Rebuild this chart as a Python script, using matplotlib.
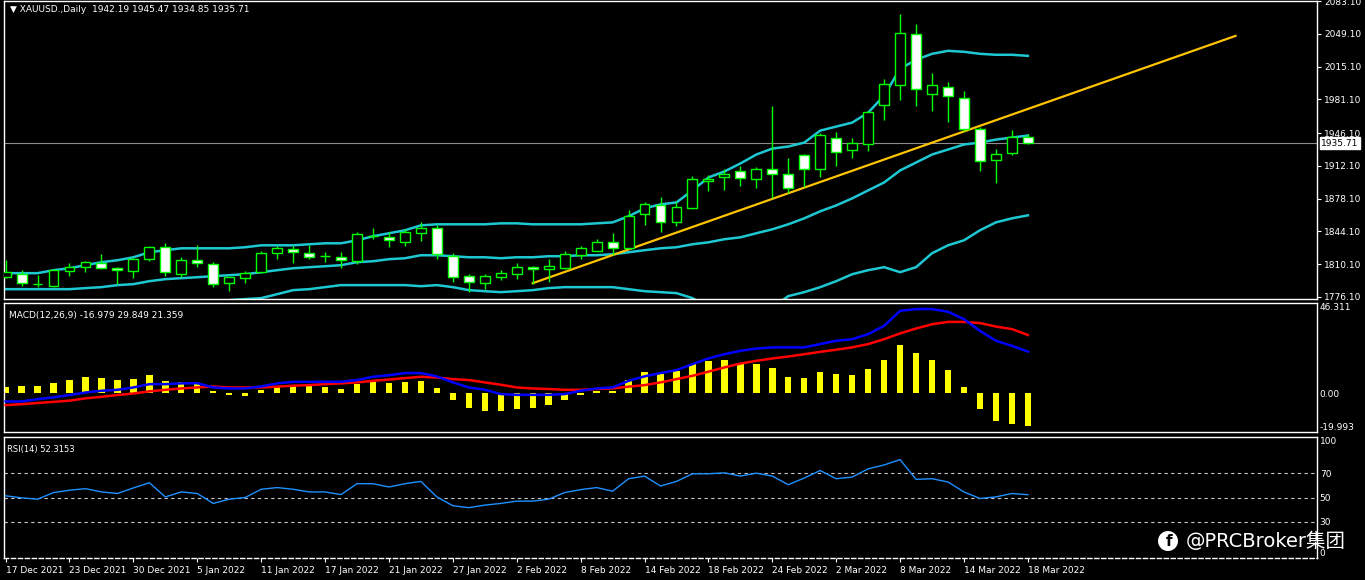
import matplotlib
matplotlib.use("Agg")
import matplotlib.pyplot as plt
import matplotlib.transforms as mtrans
from matplotlib.patches import Ellipse
import numpy as np

# ---------------- data ----------------
dates = ["17 Dec 2021", "23 Dec 2021", "30 Dec 2021", "5 Jan 2022", "11 Jan 2022", "17 Jan 2022",
         "21 Jan 2022", "27 Jan 2022", "2 Feb 2022", "8 Feb 2022", "14 Feb 2022", "18 Feb 2022",
         "24 Feb 2022", "2 Mar 2022", "8 Mar 2022", "14 Mar 2022", "18 Mar 2022"]

opens = [1796.6, 1799.7, 1789.4, 1787.3, 1802.9, 1807.0, 1811.1, 1806.0, 1802.9, 1815.3,
         1827.7, 1799.7, 1814.2, 1810.1, 1790.4, 1795.6, 1801.8, 1821.5, 1825.6, 1821.5,
         1818.4, 1817.3, 1813.2, 1839.0, 1838.0, 1832.8, 1842.2, 1847.3, 1818.4, 1797.7,
         1790.4, 1796.6, 1799.7, 1807.0, 1804.9, 1806.0, 1819.4, 1823.5, 1832.8, 1826.6,
         1861.8, 1871.1, 1853.5, 1868.0, 1896.0, 1900.1, 1906.3, 1898.0, 1909.4, 1903.2,
         1923.9, 1909.4, 1941.5, 1929.1, 1935.3, 1975.6, 1996.3, 2049.1, 1987.0, 1994.3,
         1982.9, 1950.8, 1918.7, 1926.0, 1942.19]
highs = [1814.2, 1803.9, 1798.7, 1804.9, 1811.1, 1813.2, 1820.4, 1807.0, 1816.3, 1828.7,
         1831.8, 1817.3, 1829.7, 1812.2, 1796.6, 1802.9, 1823.5, 1828.7, 1828.7, 1829.7,
         1822.5, 1822.5, 1843.2, 1847.3, 1843.2, 1846.3, 1853.5, 1850.4, 1821.5, 1799.7,
         1799.7, 1803.9, 1811.1, 1808.0, 1815.3, 1823.5, 1828.7, 1836.0, 1842.2, 1866.0,
         1874.2, 1879.4, 1874.2, 1901.2, 1902.2, 1909.4, 1912.5, 1910.5, 1974.6, 1920.8,
         1924.9, 1946.7, 1947.7, 1941.5, 1969.4, 2002.5, 2069.8, 2059.4, 2008.8, 1999.4,
         1990.1, 1952.9, 1930.1, 1949.8, 1945.47]
lows = [1795.6, 1787.3, 1786.3, 1786.3, 1797.7, 1801.8, 1804.9, 1789.4, 1795.6, 1813.2,
        1797.7, 1796.6, 1807.0, 1786.3, 1782.1, 1790.4, 1800.8, 1815.3, 1811.1, 1815.3,
        1812.2, 1806.0, 1810.1, 1836.0, 1827.7, 1828.7, 1833.9, 1815.3, 1791.5, 1781.1,
        1784.2, 1793.5, 1794.6, 1789.4, 1791.5, 1804.9, 1815.3, 1823.5, 1819.4, 1825.6,
        1850.4, 1843.2, 1849.4, 1867.0, 1885.6, 1886.7, 1890.8, 1888.7, 1878.4, 1883.5,
        1889.8, 1900.1, 1912.5, 1920.8, 1928.0, 1960.1, 1980.8, 1974.6, 1969.4, 1958.0,
        1948.7, 1906.3, 1893.9, 1922.9, 1934.85]
closes = [1801.8, 1790.4, 1789.6, 1803.9, 1807.0, 1812.2, 1806.0, 1803.9, 1815.3, 1827.7,
          1801.8, 1814.2, 1811.1, 1789.4, 1796.6, 1800.8, 1821.5, 1826.6, 1822.5, 1817.3,
          1818.0, 1814.2, 1841.1, 1839.3, 1834.9, 1843.2, 1847.3, 1820.4, 1796.6, 1791.5,
          1797.7, 1800.8, 1807.0, 1804.9, 1808.0, 1820.4, 1826.6, 1832.8, 1826.6, 1859.8,
          1872.2, 1853.5, 1869.1, 1898.0, 1898.0, 1904.2, 1899.1, 1908.4, 1904.2, 1888.7,
          1908.4, 1944.6, 1927.0, 1936.3, 1968.4, 1997.4, 2050.1, 1992.2, 1996.3, 1985.0,
          1950.8, 1916.7, 1924.9, 1942.5, 1935.71]

bb_upper = [1800.8, 1800.8, 1800.8, 1803.9, 1805.9, 1809.1, 1812.2, 1814.2, 1817.3, 1822.5,
            1824.6, 1826.6, 1826.6, 1826.6, 1826.6, 1827.7, 1829.7, 1829.7, 1829.7, 1830.8,
            1831.8, 1831.8, 1834.9, 1839.1, 1842.2, 1845.3, 1850.4, 1851.5, 1851.5, 1851.5,
            1851.5, 1852.5, 1852.5, 1851.5, 1851.5, 1851.5, 1851.5, 1852.5, 1853.5, 1859.8,
            1868.0, 1872.2, 1874.2, 1886.7, 1900.1, 1906.3, 1914.6, 1923.9, 1930.1, 1932.2,
            1936.3, 1948.7, 1952.9, 1957.0, 1967.4, 1985.0, 2012.9, 2022.2, 2028.4, 2031.5,
            2030.5, 2028.4, 2027.4, 2027.4, 2026.3]
bb_middle = [1784.2, 1784.2, 1784.2, 1784.2, 1784.2, 1785.3, 1786.3, 1788.4, 1789.4, 1792.5,
             1794.6, 1795.6, 1796.6, 1797.7, 1798.7, 1799.7, 1801.8, 1803.9, 1805.9, 1807.0,
             1808.0, 1809.1, 1812.2, 1813.2, 1815.3, 1816.3, 1819.4, 1819.4, 1818.4, 1817.3,
             1817.3, 1816.3, 1817.3, 1817.3, 1818.4, 1818.4, 1819.4, 1819.4, 1820.4, 1822.5,
             1824.6, 1826.6, 1827.7, 1830.8, 1832.8, 1836.0, 1838.0, 1842.2, 1846.3, 1851.5,
             1857.7, 1865.0, 1871.1, 1878.4, 1886.7, 1894.9, 1907.4, 1915.6, 1923.9, 1929.1,
             1934.3, 1936.3, 1939.4, 1941.5, 1943.6]
bb_lower = [1765.0, 1765.0, 1765.0, 1765.0, 1765.0, 1765.0, 1765.0, 1765.0, 1765.0, 1765.0,
            1765.0, 1765.0, 1765.0, 1765.0, 1772.8, 1773.9, 1774.9, 1779.0, 1783.2, 1784.2,
            1786.3, 1788.4, 1788.4, 1788.4, 1788.4, 1788.4, 1787.3, 1788.4, 1786.3, 1783.2,
            1782.1, 1781.1, 1782.1, 1783.2, 1785.3, 1786.3, 1786.3, 1786.3, 1786.3, 1784.2,
            1782.1, 1781.1, 1780.1, 1774.9, 1765.0, 1765.0, 1765.0, 1765.0, 1765.0, 1777.0,
            1781.1, 1786.3, 1792.5, 1799.7, 1803.9, 1807.0, 1801.8, 1807.0, 1821.5, 1829.7,
            1834.9, 1845.3, 1853.5, 1857.7, 1860.8]

trend_x = [33, 77]
trend_y = [1790.4, 2047.0]

macd_hist = [3.3, 3.8, 3.8, 5.1, 6.8, 8.4, 7.7, 6.8, 7.4, 9.2,
             6.3, 5.8, 4.6, 1.0, -1.0, -1.4, 1.7, 2.9, 3.8, 3.4,
             3.1, 2.1, 4.6, 5.5, 5.1, 5.8, 6.3, 2.6, -3.4, -7.7,
             -9.1, -9.1, -8.2, -7.7, -6.2, -3.6, -1.0, 1.2, 1.2, 6.7,
             11.0, 9.8, 11.5, 14.9, 16.6, 17.0, 15.4, 14.9, 12.8, 8.2,
             7.7, 10.8, 9.8, 9.2, 12.3, 17.0, 24.7, 20.5, 17.0, 11.8,
             3.1, -8.2, -14.4, -15.9, -16.979]
macd_blue = [-4.3, -4.3, -3.1, -2.2, -1.0, 0.3, 1.2, 1.7, 2.9, 4.6,
             4.6, 5.0, 5.1, 2.9, 2.4, 2.4, 3.4, 5.0, 5.8, 5.8,
             5.8, 5.8, 6.7, 8.4, 9.2, 10.3, 10.3, 8.6, 5.5, 2.9,
             1.7, -0.5, -0.9, -0.9, -0.9, -0.5, 1.2, 2.4, 2.9, 6.3,
             8.6, 10.3, 11.8, 14.9, 17.8, 20.0, 21.7, 22.9, 23.5, 23.5,
             23.5, 25.2, 26.9, 27.7, 30.3, 34.6, 42.3, 43.2, 43.2, 41.8,
             38.0, 32.0, 26.9, 24.3, 21.359]
macd_red = [-6.2, -5.7, -5.1, -4.5, -3.9, -2.7, -1.9, -1.0, -0.2, 0.9,
            1.7, 2.4, 2.9, 3.4, 2.9, 2.9, 2.9, 3.3, 3.8, 4.1,
            4.6, 5.0, 5.5, 6.3, 7.0, 7.7, 8.4, 8.0, 7.2, 6.7,
            5.5, 4.3, 2.9, 2.4, 2.1, 1.7, 1.7, 2.1, 2.4, 3.3,
            4.1, 5.5, 7.2, 8.9, 11.0, 13.2, 15.2, 16.6, 17.8, 18.8,
            20.0, 21.2, 22.3, 23.5, 25.2, 27.7, 30.7, 33.2, 35.4, 36.6,
            36.6, 36.0, 34.2, 32.9, 29.849]

rsi = [51.4, 49.7, 48.6, 54.1, 56.0, 57.3, 54.6, 53.3, 57.9, 62.2,
       50.5, 54.6, 53.3, 45.1, 48.6, 50.0, 56.8, 58.2, 56.8, 54.6,
       54.6, 52.4, 61.4, 61.4, 58.7, 61.4, 63.3, 50.5, 43.2, 41.6,
       43.7, 45.1, 47.0, 47.0, 48.6, 54.1, 56.5, 58.2, 55.2, 65.5,
       67.7, 59.5, 63.3, 69.6, 69.6, 70.4, 67.7, 70.1, 67.7, 60.6,
       66.1, 72.3, 65.5, 66.9, 73.7, 76.9, 81.3, 65.0, 65.5, 62.8,
       54.6, 49.2, 50.5, 53.3, 52.3153]

price_ticks = [2083.10, 2049.10, 2015.10, 1981.10, 1946.10, 1912.10, 1878.10, 1844.10, 1810.10, 1776.10]
last_price = 1935.71

# ---------------- figure ----------------
W, H = 1365, 580
fig = plt.figure(figsize=(W / 100, H / 100), dpi=100, facecolor="black")

def px_axes(x0, y0, x1, y1):
    return fig.add_axes([x0 / W, 1 - y1 / H, (x1 - x0) / W, (y1 - y0) / H], facecolor="black")

ax1 = px_axes(4, 1, 1317, 299)
ax2 = px_axes(4, 303, 1317, 432)
ax3 = px_axes(4, 437, 1317, 558)

n = len(closes)
x = np.arange(n)
XL = (-0.1, 82.1)
FS = 6.5

for ax in (ax1, ax2, ax3):
    ax.set_xlim(*XL)
    for s in ax.spines.values():
        s.set_color("white")
        s.set_linewidth(1)
    ax.yaxis.tick_right()
    ax.tick_params(axis="y", colors="white", labelsize=FS, length=3, pad=2)
    ax.tick_params(axis="x", bottom=False, labelbottom=False)

# --- price panel ---
ax1.set_ylim(1774.0, 2083.2)
ax1.axhline(last_price, color="#8c8c8c", lw=0.8, zorder=1)
ax1.plot(x, bb_upper, color="#1ec8d2", lw=1.8, zorder=2)
ax1.plot(x, bb_middle, color="#1ec8d2", lw=1.8, zorder=2)
ax1.plot(x, bb_lower, color="#1ec8d2", lw=1.8, zorder=2)
ax1.plot(trend_x, trend_y, color="#ffc400", lw=1.6, zorder=3)

o = np.array(opens); c = np.array(closes)
up = c >= o
ax1.vlines(x, lows, highs, color="#00ff00", lw=1, zorder=4)
body = np.where(np.abs(c - o) < 0.6, 0.6, c - o)
ax1.bar(x[up], body[up], bottom=o[up], width=0.62, color="black",
        edgecolor="#00ff00", lw=1, zorder=5)
ax1.bar(x[~up], body[~up], bottom=o[~up], width=0.62, color="white",
        edgecolor="#00ff00", lw=1, zorder=5)

ax1.set_yticks(price_ticks)
ax1.set_yticklabels([f"{v:.2f}" for v in price_ticks])
ax1.text(1.003, last_price, f"{last_price:.2f}", transform=mtrans.blended_transform_factory(ax1.transAxes, ax1.transData),
         ha="left", va="center", fontsize=FS, color="black",
         bbox=dict(boxstyle="square,pad=0.15", fc="white", ec="white"), clip_on=False, zorder=10)
ax1.text(0.0045, 0.985, "▼ XAUUSD.,Daily  1942.19 1945.47 1934.85 1935.71", transform=ax1.transAxes,
         ha="left", va="top", fontsize=FS, color="white")

# --- MACD panel ---
ax2.set_ylim(-19.993, 46.311)
ax2.bar(x, macd_hist, width=0.4, color="#ffff00", zorder=2)
ax2.plot(x, macd_red, color="#ff0000", lw=1.8, zorder=3)
ax2.plot(x, macd_blue, color="#0000ff", lw=1.8, zorder=4)
ax2.set_yticks([46.311, 0.0, -19.993])
ax2.set_yticklabels(["46.311", "0.00", "-19.993"])
lbls = ax2.get_yticklabels()
lbls[0].set_va("top"); lbls[2].set_va("bottom")
ax2.tick_params(axis="y", length=0)
ax2.text(0.0035, 0.94, "MACD(12,26,9) -16.979 29.849 21.359", transform=ax2.transAxes,
         ha="left", va="top", fontsize=FS, color="white")

# --- RSI panel ---
ax3.set_ylim(0, 100)
for lvl in (70, 50, 30):
    ax3.axhline(lvl, color="#c8c8c8", lw=0.8, ls=(0, (3, 3)), zorder=1)
ax3.plot(x, rsi, color="#1e90ff", lw=1, zorder=3)
ax3.set_yticks([100, 70, 50, 30, 0])
ax3.set_yticklabels(["100", "70", "50", "30", "0"])
ax3.tick_params(axis="y", length=0)
rl = ax3.get_yticklabels()
rl[0].set_va("top"); rl[4].set_va("bottom")
ax3.spines["bottom"].set_linestyle((0, (3, 2)))
ax3.text(0.002, 0.93, "RSI(14) 52.3153", transform=ax3.transAxes,
         ha="left", va="top", fontsize=FS - 0.5, color="white")
ax3.set_xticks(np.arange(0, n, 4))
ax3.set_xticklabels(dates, ha="left")
ax3.tick_params(axis="x", bottom=True, labelbottom=True, colors="white", labelsize=FS, length=3, pad=3)

# --- watermark ---
fig.patches.append(Ellipse((1168 / W, 1 - 541 / H), 20 / W, 20 / H, transform=fig.transFigure,
                           facecolor="white", edgecolor="none", zorder=20))
fig.text(1169 / W, 1 - 542 / H, "f", ha="center", va="center", fontsize=11, fontweight="bold",
         color="black", zorder=21)
fig.text(1186 / W, 1 - 541 / H, "@PRCBroker集团", ha="left", va="center", fontsize=14,
         color="white", family=["DejaVu Sans", "Noto Sans CJK SC"], zorder=21)

fig.savefig("out.png", dpi=100, facecolor="black")
